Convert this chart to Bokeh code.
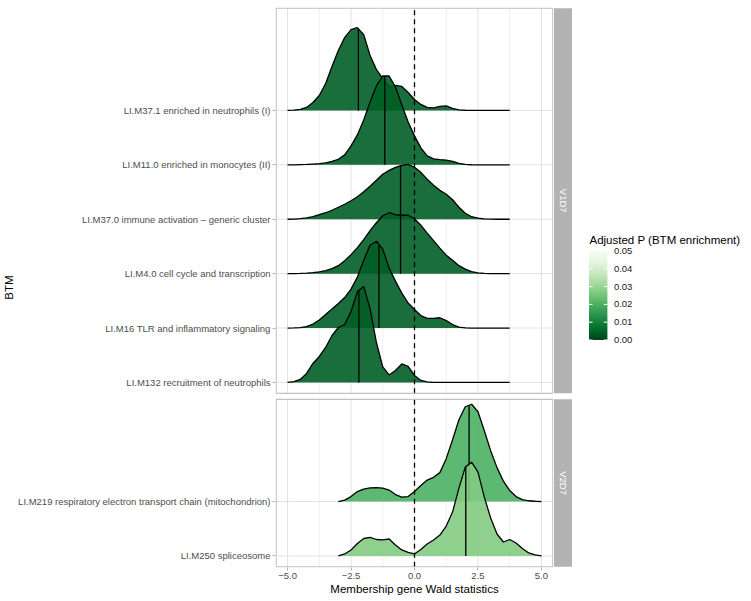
import numpy as np
from bokeh.plotting import figure
from bokeh.models import Range1d, FixedTicker, LinearColorMapper, ColumnDataSource
from bokeh.layouts import row
from bokeh.embed import file_html
from bokeh.resources import INLINE
from bokeh.core.properties import value

# ---------------------------------------------------------------- data
facet_names = ["V1D7", "V2D7"]

btm_v1 = ["LI.M37.1 enriched in neutrophils (I)",
          "LI.M11.0 enriched in monocytes (II)",
          "LI.M37.0 immune activation \u2013 generic cluster",
          "LI.M4.0 cell cycle and transcription",
          "LI.M16 TLR and inflammatory signaling",
          "LI.M132 recruitment of neutrophils"]
btm_v2 = ["LI.M219 respiratory electron transport chain (mitochondrion)",
          "LI.M250 spliceosome"]

padj_v1 = [0.004, 0.004, 0.004, 0.004, 0.004, 0.004]
padj_v2 = [0.020, 0.027]

median_v1 = [-2.21, -1.17, -0.55, -0.55, -1.40, -2.19]
median_v2 = [2.15, 2.02]

# density evaluation grid (Wald statistic)
x_v1 = [-5.0, -4.75, -4.5, -4.25, -4.0, -3.75, -3.5, -3.25, -3.0, -2.75,
        -2.5, -2.25, -2.0, -1.75, -1.5, -1.25, -1.0, -0.75, -0.5, -0.25,
        0.0, 0.25, 0.5, 0.75, 1.0, 1.25, 1.5, 1.75, 2.0, 2.25,
        2.5, 2.75, 3.0, 3.25, 3.5, 3.75]
x_v2 = [-3.0, -2.75, -2.5, -2.25, -2.0, -1.75, -1.5, -1.25, -1.0, -0.75,
        -0.5, -0.25, 0.0, 0.25, 0.5, 0.75, 1.0, 1.25, 1.5, 1.75,
        2.0, 2.25, 2.5, 2.75, 3.0, 3.25, 3.5, 3.75, 4.0, 4.25,
        4.5, 4.75, 5.0]

# scaled densities
d_m37_1 = [0, 0.3, 1, 3, 8, 15, 27, 44, 60, 73,
           81, 83, 76, 55, 41, 32, 24, 25, 24, 18,
           11, 6, 3, 2.5, 4, 4.5, 2, 0.6, 0.2, 0,
           0, 0, 0, 0, 0, 0]
d_m11_0 = [0, 0, 0.2, 0.4, 0.8, 1.2, 2, 3.5, 5.5, 10,
           19, 30, 45, 63, 79, 89, 89, 78, 60, 43,
           29, 17, 9, 6, 5.3, 4.8, 3.5, 1.5, 0.5, 0.1,
           0, 0, 0, 0, 0, 0]
d_m37_0 = [0, 0.2, 0.6, 1.3, 2.5, 4.5, 6.5, 9, 12, 15,
           18.5, 22.5, 27.5, 33, 39, 45, 49, 52, 54, 55,
           52, 47, 40, 34, 29, 25, 19.5, 12, 6, 2.5,
           1, 0.4, 0.2, 0, 0, 0]
d_m4_0 = [0, 0, 0.2, 0.5, 1, 1.8, 3, 5, 8, 13,
          19, 26, 34, 43, 51, 58, 61, 59, 58.5, 58.5,
          55, 48.5, 40.5, 33, 25.5, 18.5, 13.5, 8, 4.5, 2,
          0.7, 0.2, 0, 0, 0, 0]
d_m16 = [0, 0.1, 0.4, 1.5, 4, 8, 13.5, 19, 24.5, 30.5,
         39, 51, 68, 83, 87, 79, 60, 47, 35, 25,
         18.5, 12.5, 9.7, 9.7, 10.3, 7.5, 3.5, 1, 0.2, 0,
         0, 0, 0, 0, 0, 0]
d_m132 = [0, 0.8, 3, 9, 19, 26, 35, 47, 55, 58,
          71, 91, 96, 74, 40, 15.5, 7.5, 12, 18.5, 16,
          7, 2, 0.5, 0.1, 0, 0, 0, 0, 0, 0,
          0, 0, 0, 0, 0, 0]
d_m219 = [0, 1.5, 5, 10, 12.5, 13.7, 14, 13.5, 11.5, 7,
          4.5, 5, 10, 16, 21.5, 24.3, 29, 43, 62, 82,
          95, 97.5, 90, 71, 51, 34, 20.5, 11, 5, 2,
          0.8, 0.3, 0]
d_m250 = [0, 2, 6, 12.5, 17.5, 18.7, 16.5, 16.2, 17, 11,
          6, 3.5, 2, 6.5, 12, 16, 21, 30, 44, 68,
          89, 94, 84, 59, 38, 22, 14, 16.5, 13, 7.5,
          3, 1, 0]

dens_v1 = [d_m37_1, d_m11_0, d_m37_0, d_m4_0, d_m16, d_m132]
dens_v2 = [d_m219, d_m250]

xtick_vals = [-5.0, -2.5, 0.0, 2.5, 5.0]
xtick_labels = ["\u22125.0", "\u22122.5", "0.0", "2.5", "5.0"]
xminor_vals = [-3.75, -1.25, 1.25, 3.75]
legend_ticks = [0.0, 0.01, 0.02, 0.03, 0.04, 0.05]
legend_labels = ["0.00", "0.01", "0.02", "0.03", "0.04", "0.05"]
legend_title = "Adjusted P (BTM enrichment)"

# ---------------------------------------------------------------- styling / geometry
FONT = "Liberation Sans"
RIDGE_SCALE = 1 / 54.5          # density units -> row units
PAD_LO, PAD_HI, GAP = 0.2, 1.88, 0.11
XL, XR = -5.45, 5.45
XPAD, YPAD = 0.025, 0.012
FIG_H = 600
BORDER_TOP, BORDER_BOTTOM = 7, 33

greens9 = ['#00441b', '#006d2c', '#238b45', '#41ab5d', '#74c476',
           '#a1d99b', '#c7e9c0', '#e5f5e0', '#f7fcf5']
rgb = np.array([[int(h[i:i + 2], 16) for i in (1, 3, 5)] for h in greens9], float)
knots = np.arange(len(greens9))
pal256 = []
for tt in np.linspace(0, len(greens9) - 1, 256):
    c = [int(round(np.interp(tt, knots, rgb[:, k]))) for k in range(3)]
    pal256.append('#%02x%02x%02x' % tuple(c))
P_LOW, P_HIGH = 0.0, 0.05
mapper = LinearColorMapper(palette=pal256, low=P_LOW, high=P_HIGH)

panels_bottom_up = [
    dict(name=facet_names[1], labels=btm_v2, x=x_v2, dens=dens_v2, med=median_v2, padj=padj_v2),
    dict(name=facet_names[0], labels=btm_v1, x=x_v1, dens=dens_v1, med=median_v1, padj=padj_v1),
]
y0 = 0.0
for pn in panels_bottom_up:
    n = len(pn["labels"])
    pn["y0"] = y0
    pn["base"] = [y0 + PAD_LO + (n - 1 - i) for i in range(n)]
    pn["y1"] = y0 + PAD_LO + (n - 1) + PAD_HI
    y0 = pn["y1"] + GAP
YTOP = panels_bottom_up[-1]["y1"]
yrange = Range1d(-YPAD, YTOP + YPAD)

p = figure(width=553, height=FIG_H,
           x_range=Range1d(XL - XPAD, XR + XPAD), y_range=yrange,
           min_border_left=275, min_border_right=0,
           min_border_top=BORDER_TOP, min_border_bottom=BORDER_BOTTOM,
           output_backend="svg", toolbar_location=None)
p.outline_line_color = None
p.xgrid.visible = False
p.ygrid.visible = False

# strip figure (facet labels)
STRIP_FW = 19
strip = figure(width=STRIP_FW, height=FIG_H, x_range=Range1d(0, STRIP_FW), y_range=yrange,
               min_border_left=0, min_border_right=0,
               min_border_top=BORDER_TOP, min_border_bottom=BORDER_BOTTOM,
               toolbar_location=None, output_backend="svg",
               x_axis_location=None, y_axis_location=None)
strip.outline_line_color = None
strip.xgrid.visible = False
strip.ygrid.visible = False

all_ticks, overrides = [], {}
for pn in panels_bottom_up:
    ya, yb = pn["y0"], pn["y1"]
    # grid
    p.segment(x0=xminor_vals, y0=[ya] * len(xminor_vals), x1=xminor_vals,
              y1=[yb] * len(xminor_vals), line_color="#EFEFEF", line_width=1)
    p.segment(x0=xtick_vals, y0=[ya] * len(xtick_vals), x1=xtick_vals,
              y1=[yb] * len(xtick_vals), line_color="#E2E2E2", line_width=1)
    nb = len(pn["base"])
    p.segment(x0=[XL] * nb, y0=pn["base"], x1=[XR] * nb, y1=pn["base"],
              line_color="#E2E2E2", line_width=1)
    # ridges, top to bottom
    xs = np.array(pn["x"], float)
    for lab, b, d, m, pv in zip(pn["labels"], pn["base"], pn["dens"], pn["med"], pn["padj"]):
        dd = np.array(d, float)
        yy = b + dd * RIDGE_SCALE
        src = ColumnDataSource(dict(xs=[list(xs)], ys=[list(yy)], padj=[pv]))
        p.patches("xs", "ys", source=src,
                  fill_color={"field": "padj", "transform": mapper},
                  fill_alpha=0.9, line_color=None)
        p.line(xs, yy, line_color="black", line_width=1.3)
        ym = b + float(np.interp(m, xs, dd)) * RIDGE_SCALE
        p.segment(x0=[m], y0=[b], x1=[m], y1=[ym], line_color="black", line_width=1.3)
        all_ticks.append(b)
        overrides[b] = lab
    # dashed zero line
    p.segment(x0=[0.0], y0=[ya], x1=[0.0], y1=[yb], line_color="black",
              line_width=1.3, line_dash="5 4")
    # panel border
    p.quad(left=[XL], right=[XR], bottom=[ya], top=[yb], fill_color=None,
           line_color="#B3B3B3", line_width=1)
    # strip
    strip.quad(left=[0.2], right=[STRIP_FW], bottom=[ya], top=[yb],
               fill_color="#B3B3B3", line_color=None)
    strip.text(x=[(0.2 + STRIP_FW) / 2], y=[(ya + yb) / 2], text=[pn["name"]],
               angle=-np.pi / 2, text_align="center", text_baseline="middle",
               text_color="white", text_font=value(FONT), text_font_size="9.5px")

# axes
p.xaxis.ticker = FixedTicker(ticks=xtick_vals)
p.xaxis.major_label_overrides = {v: l for v, l in zip(xtick_vals, xtick_labels)}
p.yaxis.ticker = FixedTicker(ticks=all_ticks)
p.yaxis.major_label_overrides = overrides
p.xaxis.axis_label = "Membership gene Wald statistics"
p.yaxis.axis_label = "BTM"
for ax in (p.xaxis, p.yaxis):
    ax.axis_line_color = None
    ax.major_tick_line_color = "#B3B3B3"
    ax.major_tick_out = 3
    ax.major_tick_in = 0
    ax.minor_tick_line_color = None
    ax.major_label_text_font = FONT
    ax.major_label_text_font_size = "9.5px"
    ax.major_label_text_color = "#4D4D4D"
    ax.major_label_standoff = 2
    ax.axis_label_text_font = FONT
    ax.axis_label_text_font_size = "11.5px"
    ax.axis_label_text_font_style = "normal"
    ax.axis_label_text_color = "black"
p.xaxis.axis_label_standoff = 1
p.yaxis.axis_label_standoff = 0

# ---------------------------------------------------------------- legend (colour bar)
# legend coordinates: 1 unit = 1 px, y measured upwards from the figure bottom
LEG_W = 178
leg = figure(width=LEG_W, height=FIG_H, x_range=Range1d(0, LEG_W),
             y_range=Range1d(BORDER_BOTTOM, FIG_H - BORDER_TOP),
             min_border_left=0, min_border_right=0,
             min_border_top=BORDER_TOP, min_border_bottom=BORDER_BOTTOM,
             toolbar_location=None, output_backend="svg",
             x_axis_location=None, y_axis_location=None)
leg.outline_line_color = None
leg.xgrid.visible = False
leg.ygrid.visible = False

BAR_X0, BAR_X1 = 16.5, 34.9          # px inside legend figure
BAR_Y0, BAR_Y1 = 260.5, 349.5        # y (upwards) of P_LOW and P_HIGH
def p2y(v):
    return BAR_Y0 + (np.asarray(v, float) - P_LOW) / (P_HIGH - P_LOW) * (BAR_Y1 - BAR_Y0)
grad = np.linspace(P_LOW, P_HIGH, 256).reshape(256, 1)
leg.image(image=[grad], x=BAR_X0, y=BAR_Y0, dw=BAR_X1 - BAR_X0, dh=BAR_Y1 - BAR_Y0,
          color_mapper=mapper)
ty = p2y(legend_ticks)
nt = len(legend_ticks)
leg.segment(x0=[BAR_X0] * nt, y0=ty, x1=[BAR_X0 + 3.6] * nt, y1=ty,
            line_color="white", line_width=1)
leg.segment(x0=[BAR_X1 - 3.6] * nt, y0=ty, x1=[BAR_X1] * nt, y1=ty,
            line_color="white", line_width=1)
leg.text(x=[BAR_X1 + 6.5] * nt, y=ty, text=legend_labels, text_align="left",
         text_baseline="middle", text_font=value(FONT), text_font_size="9.5px",
         text_color="#1A1A1A")
leg.text(x=[BAR_X0 + 0.5], y=[BAR_Y1 + 11], text=[legend_title], text_align="left",
         text_baseline="middle", text_font=value(FONT), text_font_size="11.5px",
         text_color="black")

layout = row(p, strip, leg)
open("out.html", "w").write(file_html(layout, INLINE))
